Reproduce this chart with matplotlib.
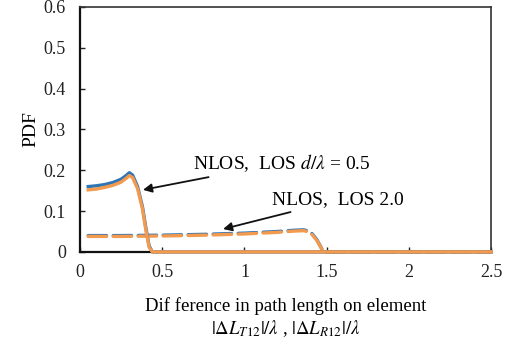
import matplotlib
matplotlib.use("Agg")
import matplotlib.pyplot as plt

plt.rcParams['font.family'] = ['Liberation Serif', 'DejaVu Serif']
plt.rcParams['mathtext.fontset'] = 'stix'

# PDF curves, element spacing d/lambda = 0.5 (solid)
x_05 = [0.05, 0.10, 0.15, 0.20, 0.25, 0.28, 0.30, 0.32, 0.35, 0.38, 0.40, 0.42, 0.44, 0.50, 1.00, 1.50, 2.00, 2.50]
nlos_05 = [0.160, 0.162, 0.165, 0.170, 0.178, 0.187, 0.194, 0.188, 0.160, 0.110, 0.060, 0.015, 0.0, 0.0, 0.0, 0.0, 0.0, 0.0]
los_05 = [0.152, 0.154, 0.158, 0.163, 0.171, 0.180, 0.187, 0.182, 0.155, 0.105, 0.055, 0.012, 0.0, 0.0, 0.0, 0.0, 0.0, 0.0]

# PDF curves, element spacing d/lambda = 2.0 (dashed)
x_20 = [0.05, 0.25, 0.50, 0.75, 1.00, 1.20, 1.30, 1.36, 1.40, 1.44, 1.48, 1.50, 2.00, 2.50]
nlos_20 = [0.040, 0.040, 0.041, 0.043, 0.046, 0.050, 0.053, 0.054, 0.050, 0.030, 0.0, 0.0, 0.0, 0.0]
los_20 = [0.038, 0.038, 0.039, 0.041, 0.044, 0.048, 0.051, 0.052, 0.048, 0.028, 0.0, 0.0, 0.0, 0.0]

blue = '#2e75b6'
orange = '#f39a4e'

fig = plt.figure(figsize=(5.16, 3.47), dpi=100)
ax = fig.add_axes([0.155, 0.274, 0.797, 0.706])

ax.plot(x_20, nlos_20, color=blue, lw=2.4, dashes=(5.5, 2), dash_capstyle='round',
        clip_on=False, zorder=3)
ax.plot(x_20, los_20, color=orange, lw=2.4, dashes=(5.5, 2), dash_capstyle='round',
        clip_on=False, zorder=3)
ax.plot(x_05, nlos_05, color=blue, lw=2.4, clip_on=False, zorder=3)
ax.plot(x_05, los_05, color=orange, lw=2.4, clip_on=False, zorder=3)

ax.set_xlim(0, 2.5)
ax.set_ylim(0, 0.6)
ax.set_xticks([0, 0.5, 1, 1.5, 2, 2.5])
ax.set_xticklabels(['0', '0.5', '1', '1.5', '2', '2.5'])
ax.set_yticks([0, 0.1, 0.2, 0.3, 0.4, 0.5, 0.6])
ax.set_yticklabels(['0', '0.1', '0.2', '0.3', '0.4', '0.5', '0.6'])
ax.tick_params(direction='in', length=3.5, width=1, labelsize=13, colors='#222222')
ax.tick_params(axis='x', pad=9)
ax.tick_params(axis='y', pad=10)

for side in ['left', 'bottom']:
    ax.spines[side].set_linewidth(1.6)
    ax.spines[side].set_color('#111111')
for side in ['top', 'right']:
    ax.spines[side].set_linewidth(1.2)
    ax.spines[side].set_color('#333333')

ax.set_ylabel('PDF', fontsize=14, labelpad=3)
ax.set_xlabel('Dif ference in path length on element\n'
              r'$|\Delta L_{T\mathrm{12}}|/\lambda$ , $|\Delta L_{R\mathrm{12}}|/\lambda$',
              fontsize=13.5, labelpad=11, linespacing=1.25)

ax.annotate(r'NLOS,  LOS $d/\lambda$ = 0.5', xy=(0.383, 0.152), xytext=(0.687, 0.218),
            fontsize=14, va='center', ha='left',
            arrowprops=dict(arrowstyle='-|>', color='#111111', lw=1.3, mutation_scale=13,
                            shrinkA=2, shrinkB=0))
ax.annotate('NLOS,  LOS 2.0', xy=(0.87, 0.056), xytext=(1.168, 0.127),
            fontsize=14, va='center', ha='left',
            arrowprops=dict(arrowstyle='-|>', color='#111111', lw=1.3, mutation_scale=13,
                            shrinkA=2, shrinkB=0))

fig.savefig('out.png', dpi=100)
